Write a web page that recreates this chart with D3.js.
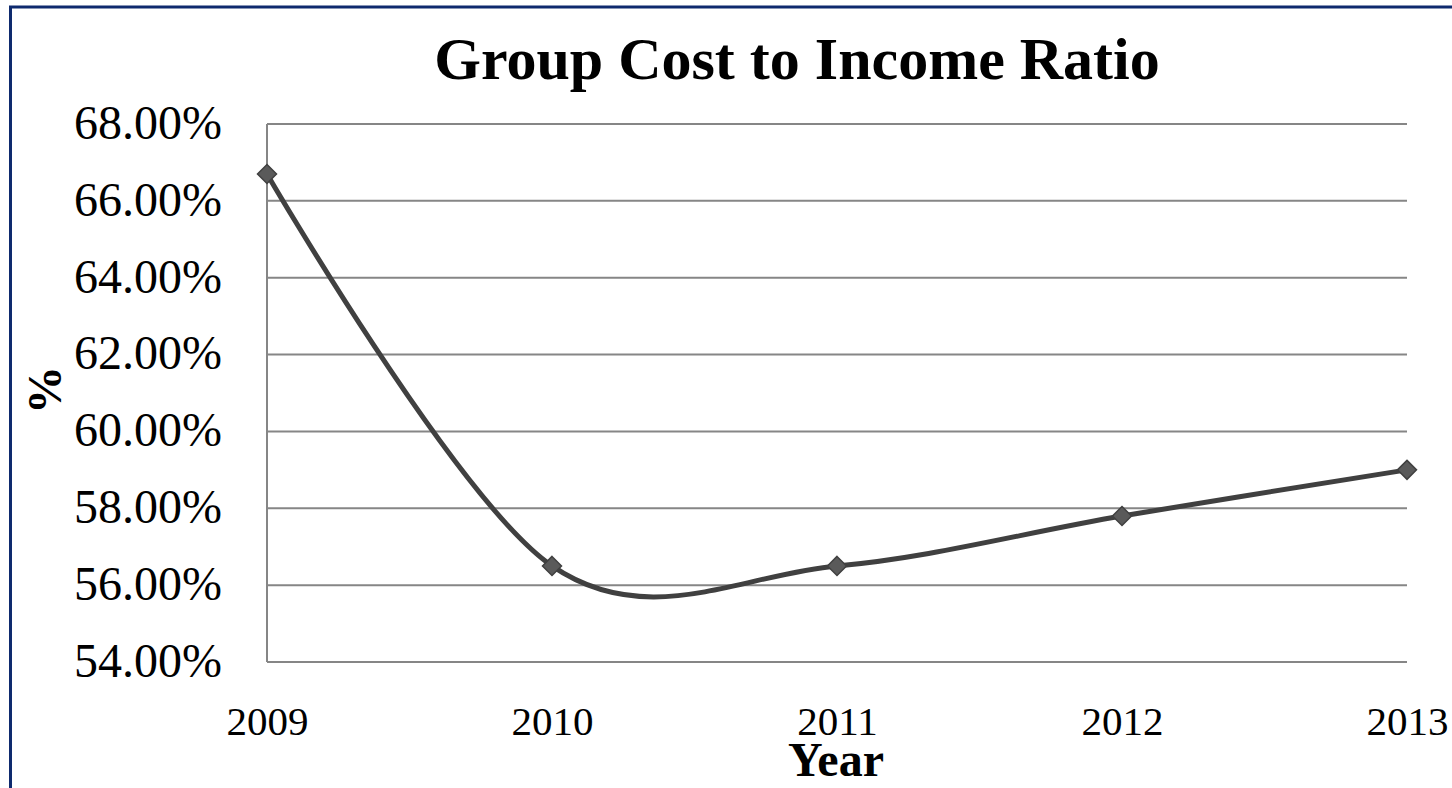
<!DOCTYPE html>
<html>
<head>
<meta charset="utf-8">
<script src="https://cdn.jsdelivr.net/npm/d3@7"></script>
<style>
  html, body { margin: 0; padding: 0; background: #fff; }
  svg { display: block; }
  text { font-family: "Liberation Serif", "DejaVu Serif", serif; fill: #000; }
</style>
</head>
<body>
<svg id="chart" width="1452" height="788"></svg>
<script>
// Group cost to income ratio by year
const years = ["2009", "2010", "2011", "2012", "2013"];
const ratios = [66.7, 56.5, 56.5, 57.8, 59.0];
const yTicks = [54, 56, 58, 60, 62, 64, 66, 68];

const svg = d3.select("#chart");
const W = 1452, H = 788;
const plot = { left: 267, right: 1407, top: 124, bottom: 662 };

// outer frame (cropped at right and bottom)
svg.append("path")
  .attr("d", `M10.5,${H} L10.5,7 L${W},7`)
  .attr("fill", "none")
  .attr("stroke", "#0e2a6e")
  .attr("stroke-width", 3);

const x = d3.scalePoint().domain(years).range([plot.left, plot.right]);
const y = d3.scaleLinear().domain([54, 68]).range([plot.bottom, plot.top]);

// horizontal gridlines
svg.append("g")
  .selectAll("line")
  .data(yTicks)
  .join("line")
  .attr("x1", plot.left).attr("x2", plot.right)
  .attr("y1", d => y(d)).attr("y2", d => y(d))
  .attr("stroke", "#868686")
  .attr("stroke-width", 2);

// vertical axis line
svg.append("line")
  .attr("x1", plot.left).attr("x2", plot.left)
  .attr("y1", plot.top).attr("y2", plot.bottom)
  .attr("stroke", "#868686")
  .attr("stroke-width", 2);

// y tick labels
const yAxis = d3.axisLeft(y).tickValues(yTicks).tickSize(0).tickPadding(0)
  .tickFormat(d => d3.format(".2f")(d) + "%");
const gy = svg.append("g").attr("transform", `translate(${222},0)`).call(yAxis);
gy.select(".domain").remove();
gy.selectAll("text")
  .attr("font-size", 48)
  .attr("font-family", "Liberation Serif, DejaVu Serif, serif")
  .attr("dy", "0.3em")
  .attr("fill", "#000");

// x tick labels
const xAxis = d3.axisBottom(x).tickSize(0).tickPadding(0);
const gx = svg.append("g").attr("transform", `translate(0,${735})`).call(xAxis);
gx.select(".domain").remove();
gx.selectAll("text")
  .attr("font-size", 41)
  .attr("font-family", "Liberation Serif, DejaVu Serif, serif")
  .attr("dy", "0")
  .attr("fill", "#000");

// smoothed series line
const line = d3.line()
  .x((d, i) => x(years[i]))
  .y(d => y(d))
  .curve(d3.curveCatmullRom.alpha(0));

svg.append("path")
  .datum(ratios)
  .attr("d", line)
  .attr("fill", "none")
  .attr("stroke", "#404040")
  .attr("stroke-width", 5)
  .attr("stroke-linejoin", "round");

// diamond markers
const diamond = d3.symbol().type(d3.symbolDiamond2).size(230);
svg.append("g")
  .selectAll("path")
  .data(ratios)
  .join("path")
  .attr("d", diamond)
  .attr("transform", (d, i) => `translate(${x(years[i])},${y(d)})`)
  .attr("fill", "#5a5a5a")
  .attr("stroke", "#404040")
  .attr("stroke-width", 1.5);

// title
svg.append("text")
  .attr("x", 797).attr("y", 79)
  .attr("text-anchor", "middle")
  .attr("font-size", 60)
  .attr("font-weight", "bold")
  .text("Group Cost to Income Ratio");

// axis titles
svg.append("text")
  .attr("x", 836).attr("y", 776)
  .attr("text-anchor", "middle")
  .attr("font-size", 48)
  .attr("font-weight", "bold")
  .text("Year");

svg.append("text")
  .attr("transform", "translate(61,390) rotate(-90)")
  .attr("text-anchor", "middle")
  .attr("font-size", 48)
  .attr("font-weight", "bold")
  .text("%");
</script>
</body>
</html>
